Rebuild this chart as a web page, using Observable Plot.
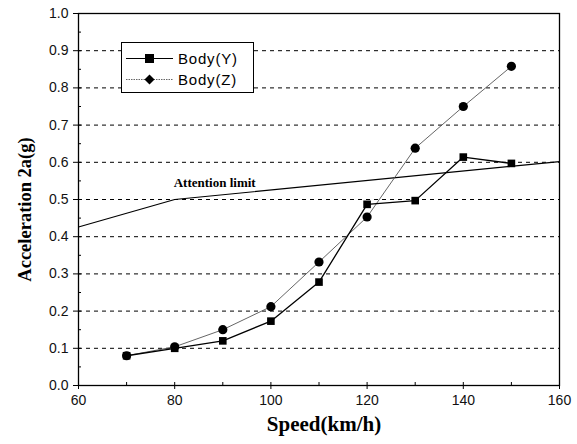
<!DOCTYPE html>
<html>
<head>
<meta charset="utf-8">
<script src="https://cdn.jsdelivr.net/npm/d3@7"></script>
<script src="https://cdn.jsdelivr.net/npm/@observablehq/plot@0.6"></script>
<style>
  html, body { margin: 0; padding: 0; background: #fff; }
  #wrap { position: relative; width: 577px; height: 444px; }
  #legend { position: absolute; left: 121px; top: 42px; width: 133px; height: 51px;
            border: 1.3px solid #000; background: #fff; box-sizing: border-box;
            font-family: "Liberation Sans", Arial, sans-serif; font-size: 15px; }
  .row { position: absolute; left: 0; height: 20px; display: flex; align-items: center; }
  .row svg { margin-left: 4px; }
  .row span { margin-left: 5px; letter-spacing: 0.8px; }
</style>
</head>
<body>
<div id="wrap"><div id="legend"></div></div>
<script>
const speeds = [70, 80, 90, 100, 110, 120, 130, 140, 150];
const bodyY = [0.08, 0.10, 0.12, 0.173, 0.278, 0.487, 0.497, 0.614, 0.597];
const bodyZ = [0.08, 0.104, 0.15, 0.212, 0.332, 0.453, 0.638, 0.75, 0.858];
const limitSpeed = [60, 80, 160];
const limitValue = [0.426, 0.5, 0.602];
const yTicks = [0, 0.1, 0.2, 0.3, 0.4, 0.5, 0.6, 0.7, 0.8, 0.9, 1.0];
const yMinor = [0.05, 0.15, 0.25, 0.35, 0.45, 0.55, 0.65, 0.75, 0.85, 0.95];
const gridTicks = [0.1, 0.2, 0.3, 0.4, 0.5, 0.6, 0.7, 0.8, 0.9];
const xTicks = [60, 80, 100, 120, 140, 160];
const xMinor = [70, 90, 110, 130, 150];
const seriesNames = ["Body(Y)", "Body(Z)"];

const dataY = speeds.map((s, i) => ({speed: s, value: bodyY[i]}));
const dataZ = speeds.map((s, i) => ({speed: s, value: bodyZ[i]}));
const limit = limitSpeed.map((s, i) => ({speed: s, value: limitValue[i]}));

const sans = "Liberation Sans, Arial, sans-serif";
const serif = "Liberation Serif, Times New Roman, serif";

const chart = Plot.plot({
  width: 577,
  height: 444,
  marginLeft: 78,
  marginRight: 18,
  marginTop: 13,
  marginBottom: 59,
  style: {fontFamily: sans, background: "#fff", color: "#000"},
  x: {domain: [60, 160]},
  y: {domain: [0, 1]},
  marks: [
    Plot.ruleY(gridTicks, {stroke: "#000", strokeWidth: 1, strokeDasharray: "4,4"}),
    Plot.axisY({ticks: yTicks, tickFormat: d3.format(".1f"), tickSize: 5, tickPadding: 5, fontSize: 14, label: null, fill: "#111"}),
    Plot.axisY({ticks: yTicks, tickSize: -3, text: null, label: null}),
    Plot.axisY({ticks: yMinor, tickSize: -3, text: null, label: null}),
    Plot.axisX({ticks: xTicks, tickSize: 4, tickPadding: 6, fontSize: 14, label: null, fill: "#111"}),
    Plot.axisX({ticks: xTicks, tickSize: -3, text: null, label: null}),
    Plot.axisX({ticks: xMinor, tickSize: -3, text: null, label: null}),
    Plot.frame({stroke: "#000", strokeWidth: 1.3}),
    Plot.line(limit, {x: "speed", y: "value", stroke: "#000", strokeWidth: 1.2}),
    Plot.text(["Attention limit"], {x: 80, y: 0.5, dx: 40, dy: -17, fontFamily: serif, fontWeight: "bold", fontSize: 13}),
    Plot.line(dataZ, {x: "speed", y: "value", stroke: "#555", strokeWidth: 0.9}),
    Plot.line(dataY, {x: "speed", y: "value", stroke: "#000", strokeWidth: 1.3}),
    Plot.dot(dataZ, {x: "speed", y: "value", symbol: "circle", r: 4.6, fill: "#000", stroke: "none"}),
    Plot.dot(dataY, {x: "speed", y: "value", symbol: "square", r: 4.3, fill: "#000", stroke: "none"}),
    Plot.text(["Speed(km/h)"], {frameAnchor: "bottom", dx: 5, dy: 45, fontFamily: serif, fontWeight: "bold", fontSize: 21}),
    Plot.text(["Acceleration 2a(g)"], {frameAnchor: "left", textAnchor: "middle", dx: -53, dy: 10, rotate: -90, fontFamily: serif, fontWeight: "bold", fontSize: 18.5})
  ]
});
document.getElementById("wrap").prepend(chart);

// legend
const legend = document.getElementById("legend");
seriesNames.forEach((name, i) => {
  const row = document.createElement("div");
  row.className = "row";
  row.style.top = (i === 0 ? 5 : 26) + "px";
  const marker = i === 0
    ? '<rect x="19" y="5" width="9" height="9" fill="#000"/>'
    : '<path d="M23.5,4.5 L28.5,9.5 L23.5,14.5 L18.5,9.5 Z" fill="#000"/>';
  const line = i === 0
    ? '<line x1="0" y1="9.5" x2="47" y2="9.5" stroke="#000" stroke-width="1.2"/>'
    : '<line x1="0" y1="9.5" x2="47" y2="9.5" stroke="#555" stroke-width="0.9" stroke-dasharray="1.5,1"/>';
  row.innerHTML = `<svg width="47" height="19">${line}${marker}</svg><span>${name}</span>`;
  legend.appendChild(row);
});
</script>
</body>
</html>
